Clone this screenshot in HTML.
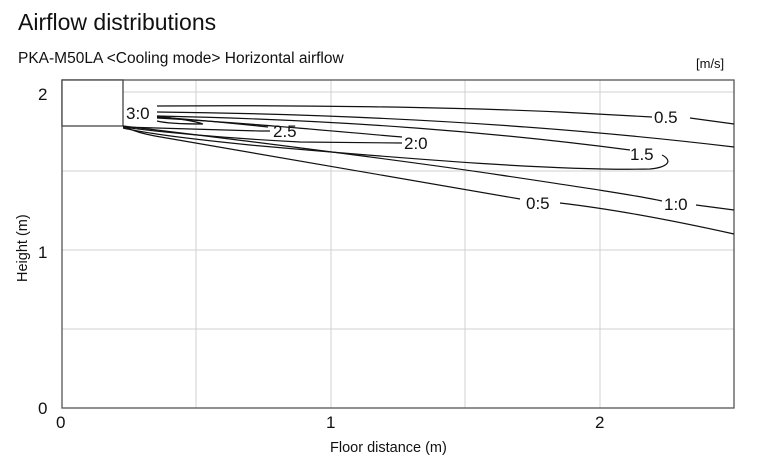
<!DOCTYPE html>
<html><head><meta charset="utf-8"><style>
body{margin:0;background:#fff;width:768px;height:469px;overflow:hidden;font-family:"Liberation Sans",sans-serif}
</style></head><body>
<svg width="768" height="469" xmlns="http://www.w3.org/2000/svg" font-family="Liberation Sans, sans-serif">
<text x="18" y="30" font-size="23" fill="#111">Airflow distributions</text>
<text x="18" y="63" font-size="15.5" fill="#111">PKA-M50LA &lt;Cooling mode&gt; Horizontal airflow</text>
<text x="696" y="68" font-size="13" fill="#111">[m/s]</text>
<g stroke="#d0d0d0" stroke-width="1">
<line x1="196" y1="80" x2="196" y2="408"/><line x1="331" y1="80" x2="331" y2="408"/>
<line x1="465" y1="80" x2="465" y2="408"/><line x1="600" y1="80" x2="600" y2="408"/>
<line x1="62" y1="92" x2="734" y2="92"/><line x1="62" y1="171" x2="734" y2="171"/>
<line x1="62" y1="250" x2="734" y2="250"/><line x1="62" y1="329" x2="734" y2="329"/>
</g>
<rect x="62" y="80" width="672" height="328" fill="none" stroke="#555" stroke-width="1.3"/>
<rect x="62" y="80" width="61" height="46" fill="#fff" stroke="#444" stroke-width="1.3"/>
<g fill="none" stroke="#111" stroke-width="1.2">
<path d="M157,106 C300,105 450,107 560,112 L652,117 M690,118 L734,124"/>
<path d="M157,112 C350,114 550,125 734,147"/>
<path d="M157,116 C350,120 500,133 630,150 M662,155 C672,160 670,167 650,169 C560,171 420,160 250,145 C180,138 140,132 123,128"/>
<path d="M157,118 C250,123 330,131 402,137 M402,143 L300,142 C220,138 150,131 123,127"/>
<path d="M157,117 C200,120 240,124 268,127 M270,131 L260,131 C200,129 150,128 123,127"/>
<path d="M157,116 C180,119 195,121 203,124 C180,124 165,123 157,121"/>
<path d="M123,126 C200,135 400,160 500,175 C580,187 640,196 662,201 M696,205 L734,210"/>
<path d="M123,126 C135,132 145,134 155,136 C200,143 350,170 520,199 M560,203 C620,210 680,222 734,234"/>
</g>
<g font-size="17" fill="#111">
<text x="126" y="119">3:0</text>
<text x="273" y="137">2.5</text>
<text x="404" y="149">2:0</text>
<text x="654" y="123">0.5</text>
<text x="630" y="160">1.5</text>
<text x="664" y="210">1:0</text>
<text x="526" y="209">0:5</text>
</g>
<g font-size="17" fill="#111">
<text x="56" y="428">0</text><text x="326" y="428">1</text><text x="595" y="428">2</text>
<text x="38" y="100">2</text><text x="38" y="258">1</text><text x="38" y="414">0</text>
</g>
<text x="330" y="452" font-size="14.5" fill="#111">Floor distance (m)</text>
<text transform="translate(27,282) rotate(-90)" font-size="14.5" fill="#111">Height (m)</text>
</svg>
</body></html>
